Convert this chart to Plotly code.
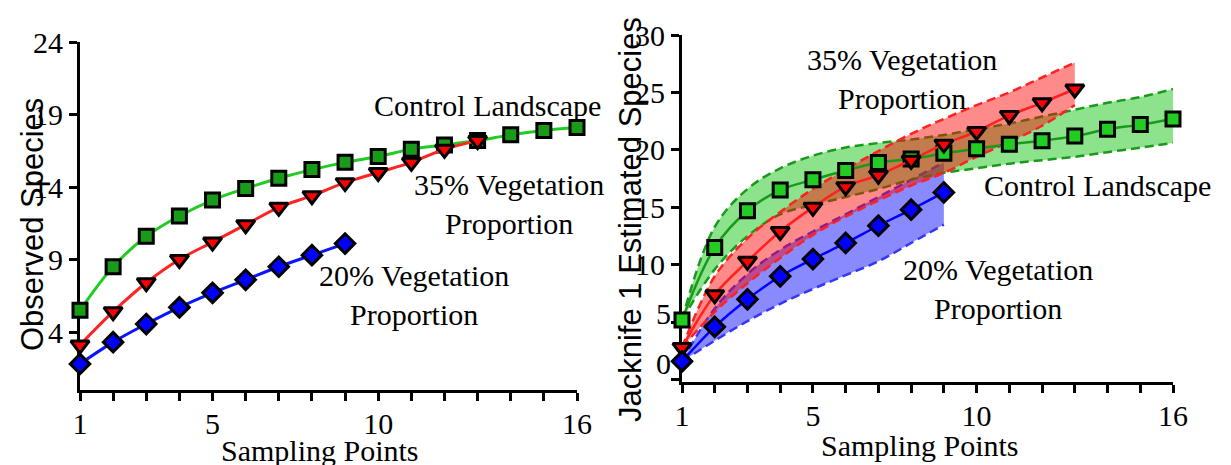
import plotly.graph_objects as go

# ---------------- data ----------------
sampling = list(range(1, 17))
x_ticks = list(range(1, 17))
x_ticktext = ["1", "", "", "", "5", "", "", "", "", "10", "", "", "", "", "", "16"]

# Left panel: observed species
obs_control = [5.5, 8.5, 10.6, 12.0, 13.1, 13.9, 14.6, 15.2, 15.7, 16.1, 16.6, 16.9, 17.2, 17.6, 17.9, 18.1]
obs_35 = [3.1, 5.4, 7.4, 9.0, 10.2, 11.4, 12.6, 13.4, 14.3, 15.0, 15.7, 16.6, 17.2]
obs_20 = [1.8, 3.3, 4.55, 5.7, 6.7, 7.6, 8.5, 9.3, 10.1]
left_yticks = [4, 9, 14, 19, 24]

# Right panel: Jackknife 1 estimates with confidence bands
jk_control = [5.2, 11.5, 14.7, 16.5, 17.4, 18.2, 18.9, 19.2, 19.7, 20.1, 20.5, 20.8, 21.2, 21.8, 22.2, 22.7]
jk_control_low = [5.2, 9.6, 12.5, 14.4, 15.2, 15.9, 16.6, 17.4, 18.0, 18.4, 18.8, 19.1, 19.4, 19.8, 20.2, 20.6]
jk_control_high = [5.2, 13.3, 16.6, 18.4, 19.5, 20.2, 20.6, 20.9, 21.3, 21.8, 22.3, 22.9, 23.5, 24.1, 24.6, 25.3]

jk_35 = [2.8, 7.4, 10.3, 12.9, 15.0, 16.8, 17.8, 19.1, 20.5, 21.6, 23.0, 24.1, 25.3]
jk_35_low = [2.8, 5.9, 8.4, 10.6, 12.6, 14.2, 15.6, 16.9, 18.0, 19.4, 20.7, 22.1, 23.9]
jk_35_high = [2.8, 9.0, 12.3, 14.6, 16.6, 18.3, 19.9, 21.4, 22.7, 23.9, 25.0, 26.3, 27.6]

jk_20 = [1.6, 4.6, 7.0, 9.0, 10.5, 11.9, 13.4, 14.8, 16.3]
jk_20_low = [1.6, 3.4, 5.1, 6.6, 7.9, 9.1, 10.3, 11.9, 13.5]
jk_20_high = [1.6, 6.2, 9.2, 11.3, 12.9, 14.4, 15.9, 17.4, 18.9]
right_yticks = [0, 5, 10, 15, 20, 25, 30]
right_yticktext = ["", "", "10", "15", "20", "25", "30"]

# ---------------- styling ----------------
OFF = 8  # page offset of the plot div
W, H = 1231 - OFF, 465 - OFF
SERIF = "Liberation Serif, Times New Roman, serif"
SANS = "Liberation Sans, Arial, sans-serif"

def px_x(p):
    return (p - OFF) / W

def px_y(p):
    return (H - (p - OFF)) / H

fig = go.Figure()

mk_line = dict(color="black", width=3)

# ---- left panel ----
left_series = [
    (obs_control, "#22cc22", "#199a19", "square", 14),
    (obs_35, "#ff2424", "#ff0000", "triangle-down", 16),
    (obs_20, "#0a14ff", "#0000ff", "diamond", 15),
]
for ys, lc, mc, sym, sz in left_series:
    fig.add_trace(go.Scatter(
        x=sampling[:len(ys)], y=ys, mode="lines+markers",
        line=dict(color=lc, width=3, shape="spline", smoothing=1),
        marker=dict(symbol=sym, size=sz, color=mc, line=mk_line),
        xaxis="x", yaxis="y", cliponaxis=False, showlegend=False, hoverinfo="skip"))

# ---- right panel bands ----
bands = [
    (jk_20_low, jk_20_high, "#3535ff", "rgba(0,0,255,0.46)"),
    (jk_control_low, jk_control_high, "#1a9a1a", "rgba(0,192,0,0.45)"),
    (jk_35_low, jk_35_high, "#ff2020", "rgba(255,0,0,0.46)"),
]
for lo, hi, lc, fc in bands:
    xs = sampling[:len(lo)]
    fig.add_trace(go.Scatter(
        x=xs, y=lo, mode="lines",
        line=dict(color=lc, width=2.5, dash="9px,5px", shape="spline", smoothing=1),
        xaxis="x2", yaxis="y2", showlegend=False, hoverinfo="skip"))
    fig.add_trace(go.Scatter(
        x=xs, y=hi, mode="lines", fill="tonexty", fillcolor=fc,
        line=dict(color=lc, width=2.5, dash="9px,5px", shape="spline", smoothing=1),
        xaxis="x2", yaxis="y2", showlegend=False, hoverinfo="skip"))

right_series = [
    (jk_control, "#1a9a1a", "#22cc22", "square", 14),
    (jk_35, "#ff2020", "#ff0000", "triangle-down", 16),
    (jk_20, "#0000ff", "#0000ff", "diamond", 15),
]
for ys, lc, mc, sym, sz in right_series:
    fig.add_trace(go.Scatter(
        x=sampling[:len(ys)], y=ys, mode="lines+markers",
        line=dict(color=lc, width=2.5, shape="spline", smoothing=1),
        marker=dict(symbol=sym, size=sz, color=mc, line=mk_line),
        xaxis="x2", yaxis="y2", cliponaxis=False, showlegend=False, hoverinfo="skip"))

axis_common = dict(
    showline=True, linewidth=3, linecolor="black", mirror=False,
    ticks="outside", ticklen=8, tickwidth=3, tickcolor="black",
    showgrid=False, zeroline=False, layer="below traces", automargin=False,
    tickfont=dict(family=SERIF, size=30, color="black"),
)

fig.update_layout(
    template="none",
    width=W, height=H,
    margin=dict(l=0, r=0, t=0, b=0, autoexpand=False),
    paper_bgcolor="white", plot_bgcolor="white",
    xaxis=dict(domain=[px_x(80), px_x(577)], range=[1, 16], anchor="y",
               tickmode="array", tickvals=x_ticks, ticktext=x_ticktext,
               ticklabelstandoff=-3, **axis_common),
    yaxis=dict(domain=[px_y(390), px_y(42)], range=[0, 24], anchor="x",
               tickmode="array", tickvals=left_yticks, **axis_common),
    xaxis2=dict(domain=[px_x(682), px_x(1173)], range=[1, 16], anchor="y2",
                tickmode="array", tickvals=x_ticks, ticktext=x_ticktext,
                ticklabelstandoff=-3, **axis_common),
    yaxis2=dict(domain=[px_y(382), px_y(35)], range=[-0.2, 30], anchor="x2",
                tickmode="array", tickvals=right_yticks, ticktext=right_yticktext,
                **axis_common),
)

def ann(text, x, y, family=SERIF, size=30, angle=0, xanchor="center"):
    fig.add_annotation(text=text, x=px_x(x), y=px_y(y), xref="paper", yref="paper",
                       showarrow=False, xanchor=xanchor, yanchor="middle",
                       textangle=angle, font=dict(family=family, size=size, color="black"))

# right-axis lower tick labels (drawn slightly above their ticks, as in the original)
ann(str(right_yticks[1]), 673, 313, xanchor="right")
ann(str(right_yticks[0]), 673, 363, xanchor="right")

# axis titles
ann("Observed Species", 32, 225, family=SANS, size=31, angle=-90)
ann("Jacknife 1 Estimated Species", 630, 220, family=SANS, size=31, angle=-90)
ann("Sampling Points", 320, 450)
ann("Sampling Points", 920, 445)

# left-panel labels
ann("Control Landscape", 487, 105)
ann("35% Vegetation<br>Proportion", 509, 204)
ann("20% Vegetation<br>Proportion", 414, 295)

# right-panel labels
ann("35% Vegetation<br>Proportion", 902, 79)
ann("Control Landscape", 1097, 185)
ann("20% Vegetation<br>Proportion", 998, 289)

fig.write_html("out.html")
